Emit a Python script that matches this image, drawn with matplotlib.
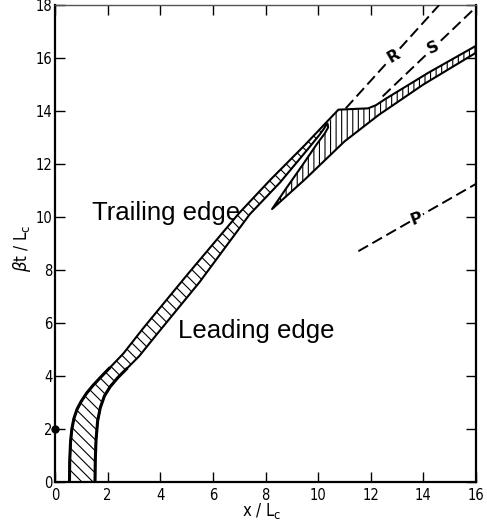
import matplotlib
matplotlib.use("Agg")
import matplotlib.pyplot as plt
from matplotlib.patches import Polygon
from matplotlib import font_manager

plt.rcParams['hatch.linewidth'] = 0.8
plt.rcParams['lines.scale_dashes'] = False

# ---- data ----
# upper / left boundary of the band (trailing side), bottom to top-right
upper_x = [0.55, 0.56, 0.59, 0.64, 0.72, 0.84, 1.00, 1.20, 1.45, 1.75, 2.10, 2.60, 3.35, 5.05, 7.00, 8.20, 9.50, 10.77,
           11.20, 11.90, 12.20, 12.55, 14.20, 16.00]
upper_y = [0.00, 0.80, 1.50, 2.00, 2.40, 2.75, 3.05, 3.35, 3.65, 3.97, 4.33, 4.85, 5.80, 7.85, 10.15, 11.42, 12.72, 14.05,
           14.07, 14.10, 14.22, 14.45, 15.45, 16.46]
n_main = 18  # points of the upper line that belong to the main band (up to the corner)

# lower / right boundary of the main band, bottom to notch top
lower_x = [1.52, 1.53, 1.56, 1.62, 1.72, 1.88, 2.10, 2.40, 2.75, 3.20, 3.85, 5.50, 7.40, 8.55, 9.60, 10.05, 10.22, 10.32]
lower_y = [0.00, 0.80, 1.60, 2.30, 2.80, 3.25, 3.60, 3.95, 4.30, 4.75, 5.55, 7.55, 10.10, 11.30, 12.55, 13.10, 13.33, 13.50]

# inner edge of the wedge (tip to notch top)
wedge_in_x = [8.25, 8.80, 9.40, 9.95, 10.25, 10.38, 10.36]
wedge_in_y = [10.30, 11.10, 11.95, 12.75, 13.15, 13.38, 13.52]

# outer (lower) edge of the wedge / upper band (tip to right edge)
wedge_out_x = [8.25, 9.50, 11.00, 12.30, 14.00, 16.00]
wedge_out_y = [10.30, 11.42, 12.85, 13.85, 15.00, 16.20]

# dashed characteristic lines
R_x, R_y = [11.05, 14.60], [14.10, 18.00]
S_x, S_y = [12.45, 16.00], [14.55, 17.92]
P_x, P_y = [11.53, 16.00], [8.71, 11.25]
line_labels = ['R', 'S', 'P']
label_x = [12.86, 14.38, 13.75]
label_y = [16.08, 16.38, 9.95]

dot_x, dot_y = [0.0], [2.0]

xticks = list(range(0, 17, 2))
yticks = list(range(0, 19, 2))

# ---- figure ----
fig = plt.figure(figsize=(4.87, 5.22), dpi=100)
ax = fig.add_axes([55 / 487, 40 / 522, 421 / 487, 477 / 522])

main_poly = list(zip(upper_x[:n_main], upper_y[:n_main])) + list(zip(lower_x[::-1], lower_y[::-1]))
ax.add_patch(Polygon(main_poly, closed=True, facecolor='white', edgecolor='black', lw=0,
                     hatch='\\\\\\', zorder=2))

up_poly = (list(zip(upper_x[n_main - 1:], upper_y[n_main - 1:]))
           + list(zip(wedge_out_x[::-1], wedge_out_y[::-1]))
           + list(zip(wedge_in_x, wedge_in_y)))
ax.add_patch(Polygon(up_poly, closed=True, facecolor='white', edgecolor='black', lw=0,
                     hatch='|||', zorder=2))

ax.plot(upper_x, upper_y, color='black', lw=1.5, zorder=3, solid_joinstyle='round')
ax.plot(lower_x + wedge_in_x[::-1] + wedge_out_x, lower_y + wedge_in_y[::-1] + wedge_out_y,
        color='black', lw=1.5, zorder=3, solid_joinstyle='round')
# heavier strokes on the early curved part
ax.plot(upper_x[:11], upper_y[:11], color='black', lw=2.2, zorder=3, solid_capstyle='butt',
        solid_joinstyle='round')
ax.plot(lower_x[:9], lower_y[:9], color='black', lw=2.2, zorder=3, solid_capstyle='butt',
        solid_joinstyle='round')

for xs, ys in [(R_x, R_y), (S_x, S_y), (P_x, P_y)]:
    ax.plot(xs, ys, color='black', lw=1.4, dashes=(8, 3.6), zorder=3)
for lab, lx, ly, rot in zip(line_labels, label_x, label_y, [30, 25, 20]):
    ax.text(lx, ly, lab, ha='center', va='center', fontsize=11.5, fontweight='bold',
            rotation=rot, zorder=4,
            bbox=dict(facecolor='white', edgecolor='none', pad=0.8))

ax.plot(dot_x, dot_y, 'o', color='black', ms=5, clip_on=False, zorder=5)

ax.text(1.39, 10.16, 'Trailing edge', fontsize=18.5, family='Liberation Sans',
        ha='left', va='center', zorder=1)
ax.text(4.68, 5.68, 'Leading edge', fontsize=18.5, family='Liberation Sans',
        ha='left', va='center', zorder=1)

ax.set_xlim(0, 16)
ax.set_ylim(0, 18)
ax.set_xticks(xticks)
ax.set_yticks(yticks)
tick_fp = font_manager.FontProperties(family='DejaVu Sans', stretch='condensed', size=10.5)
ax.set_xticklabels([str(t) for t in xticks], fontproperties=tick_fp)
ax.set_yticklabels([str(t) for t in yticks], fontproperties=tick_fp)
ax.tick_params(direction='in', length=7, width=1.0, top=True, right=True,
               labeltop=False, labelright=False)
ax.tick_params(axis='x', pad=4)
ax.tick_params(axis='y', pad=2)
for s in ['left', 'right', 'bottom']:
    ax.spines[s].set_linewidth(1.6)
ax.spines['top'].set_linewidth(1.0)
ax.spines['top'].set_color('#555555')

lab_fp = font_manager.FontProperties(family='DejaVu Sans', stretch='condensed', size=12)
ax.set_xlabel(r'x / L$_{\mathrm{c}}$', fontproperties=lab_fp)
ax.set_ylabel(r'$\beta$t / L$_{\mathrm{c}}$', fontproperties=lab_fp)
ax.xaxis.set_label_coords(0.49, -0.04)
ax.yaxis.set_label_coords(-0.052, 0.49)

fig.savefig('out.png', dpi=100)
